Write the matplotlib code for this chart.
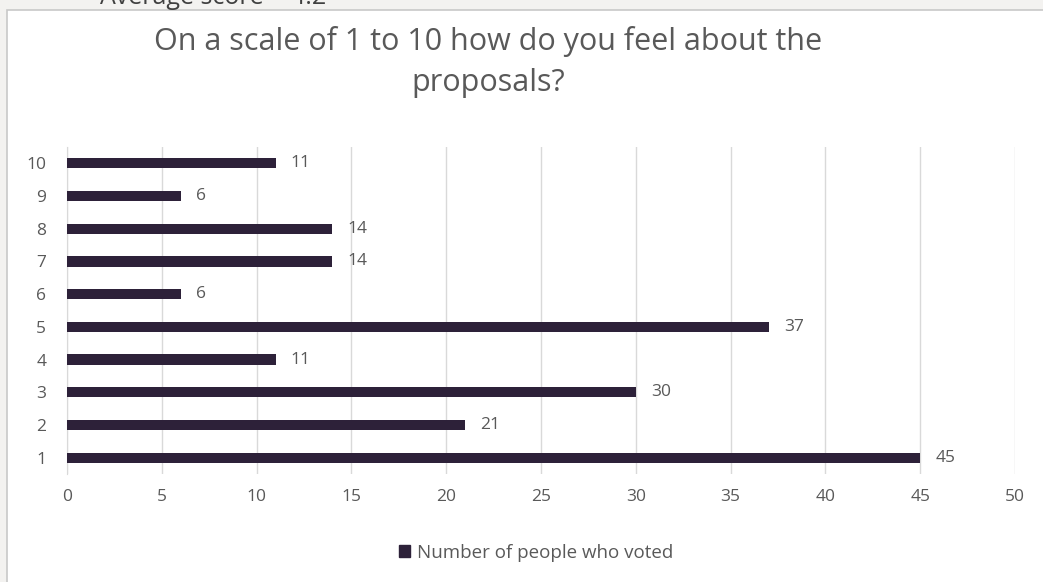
import matplotlib.pyplot as plt
from matplotlib.patches import Rectangle

plt.rcParams['font.family'] = ['Open Sans', 'DejaVu Sans']

# data
scores = [1, 2, 3, 4, 5, 6, 7, 8, 9, 10]
votes = [45, 21, 30, 11, 37, 6, 14, 14, 6, 11]
series_name = 'Number of people who voted'
title = 'On a scale of 1 to 10 how do you feel about the\nproposals?'
avg_text = 'Average score = 4.2'

bar_color = '#2d2139'
text_gray = '#595959'
grid_gray = '#d9d9d9'

fig = plt.figure(figsize=(10.43, 5.82), dpi=100)
fig.patch.set_facecolor('#f3f2f0')

# white chart panel with thin border
panel = Rectangle((7 / 1043, -0.01), 1.02, 1 - 10 / 582 + 0.01, transform=fig.transFigure,
                  facecolor='white', edgecolor='#c8c8c8', linewidth=1.2, zorder=-10)
fig.patches.append(panel)

# header text that sits above the chart (cut off at the top like the source)
fig.text(100 / 1043, 1 + 2 / 582, avg_text, fontsize=18, color='#404040',
         ha='left', va='center')

# title
fig.text(488 / 1043, 1 - 62 / 582, title, fontsize=22, color=text_gray,
         ha='center', va='center', linespacing=1.5)

ax = fig.add_axes([67 / 1043, 1 - 474 / 582, (1015 - 67) / 1043, (474 - 147) / 582])
ax.set_facecolor('none')

ax.barh(scores, votes, height=0.31, color=bar_color, zorder=3)
for s, v in zip(scores, votes):
    ax.text(v + 0.8, s, str(v), va='center', ha='left', fontsize=12.5, color=text_gray)

ax.set_xlim(0, 50)
ax.set_ylim(0.5, 10.5)
ax.set_xticks(range(0, 51, 5))
ax.set_yticks(scores)
ax.tick_params(length=0, labelsize=12.5, labelcolor=text_gray)
ax.tick_params(axis='x', pad=11)
ax.tick_params(axis='y', pad=15)
ax.grid(axis='x', color=grid_gray, linewidth=1, zorder=0)
for side in ['top', 'right', 'bottom']:
    ax.spines[side].set_visible(False)
ax.spines['left'].set_color(grid_gray)

handle = Rectangle((0, 0), 1, 1, color=bar_color)
fig.legend([handle], [series_name], loc='center', bbox_to_anchor=(536 / 1043, 1 - 553 / 582),
           frameon=False, fontsize=13.5, labelcolor=text_gray, handlelength=0.6,
           handleheight=0.6, handletextpad=0.4)

fig.savefig('out.png', dpi=100)
